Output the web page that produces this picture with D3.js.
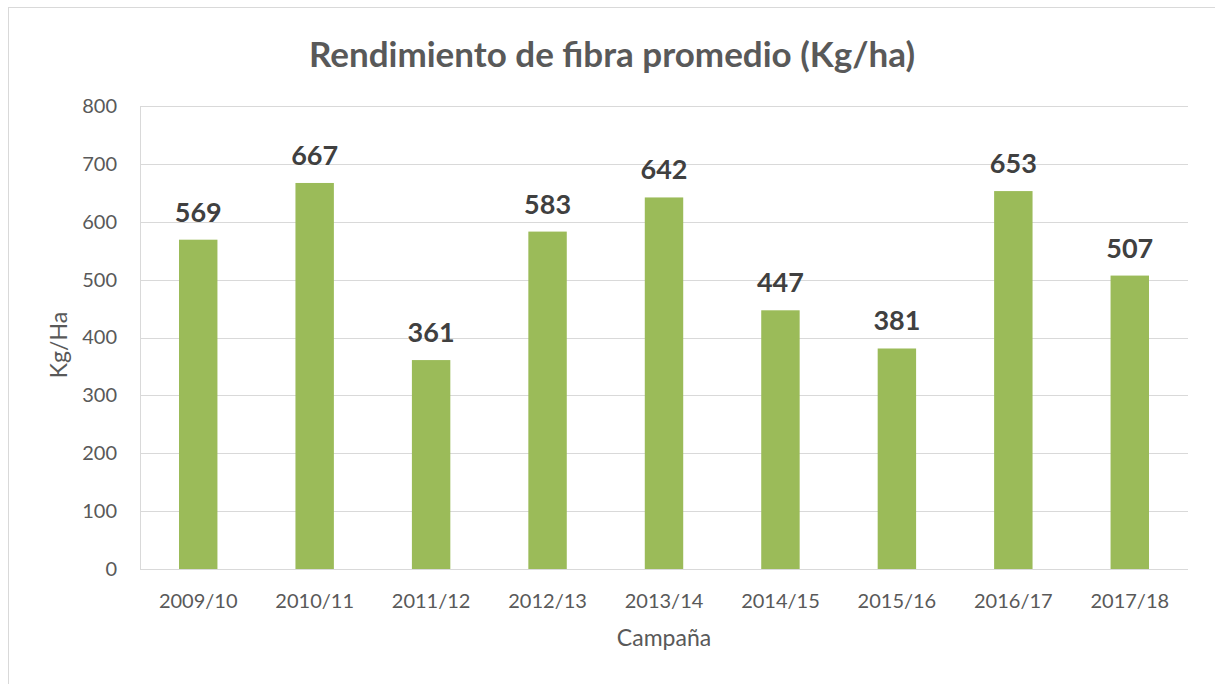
<!DOCTYPE html>
<html><head><meta charset="utf-8">
<script src="https://cdn.jsdelivr.net/npm/d3@7"></script>
<style>body{margin:0;background:#fff;} svg{display:block;}</style>
</head><body>
<svg id="c" width="1215" height="684"></svg>
<script>
const categories = ["2009/10","2010/11","2011/12","2012/13","2013/14","2014/15","2015/16","2016/17","2017/18"];
const values = [569,667,361,583,642,447,381,653,507];
const yTicks = [0,100,200,300,400,500,600,700,800];
const title = "Rendimiento de fibra promedio (Kg/ha)";
const xTitle = "Campaña";
const yTitle = "Kg/Ha";

const svg = d3.select("#c");
const font = "Lato, 'Open Sans', sans-serif";
const m = {left:140, right:1188, top:106, bottom:569};

svg.append("rect").attr("x",8.5).attr("y",7.5).attr("width",1215).attr("height",700)
  .attr("fill","#fff").attr("stroke","#d9d9d9").attr("stroke-width",1);

const x = d3.scaleBand().domain(categories).range([m.left,m.right]).paddingInner(0.67).paddingOuter(0.335);
const y = d3.scaleLinear().domain([0,800]).range([m.bottom,m.top]);

// gridlines
svg.append("g").selectAll("line").data(yTicks).join("line")
  .attr("x1",m.left).attr("x2",m.right)
  .attr("y1",d=>Math.round(y(d))+0.5).attr("y2",d=>Math.round(y(d))+0.5)
  .attr("stroke","#d9d9d9").attr("stroke-width",1);
svg.append("line").attr("x1",m.left+0.5).attr("x2",m.left+0.5).attr("y1",m.top).attr("y2",m.bottom)
  .attr("stroke","#d9d9d9");

// y tick labels
const yAxis = d3.axisLeft(y).tickValues(yTicks).tickSize(0).tickPadding(23);
const gy = svg.append("g").attr("transform",`translate(${m.left},0)`).call(yAxis);
gy.select(".domain").remove();
gy.selectAll("text").attr("font-family",font).attr("font-size",20).attr("fill","#595959");

// x tick labels
const xAxis = d3.axisBottom(x).tickSize(0).tickPadding(25);
const gx = svg.append("g").attr("transform",`translate(0,${m.bottom})`).call(xAxis);
gx.select(".domain").remove();
gx.selectAll("text").attr("font-family",font).attr("font-size",20).attr("fill","#595959");

// bars
svg.append("g").selectAll("rect").data(values).join("rect")
  .attr("x",(d,i)=>x(categories[i])).attr("width",x.bandwidth())
  .attr("y",d=>y(d)).attr("height",d=>y(0)-y(d)).attr("fill","#9bbb59");

// data labels
svg.append("g").selectAll("text").data(values).join("text")
  .attr("x",(d,i)=>x(categories[i])+x.bandwidth()/2).attr("y",d=>y(d)-18)
  .attr("text-anchor","middle").attr("font-family",font).attr("font-weight","bold")
  .attr("font-size",27).attr("fill","#404040").text(d=>d);

// titles
svg.append("text").attr("x",612).attr("y",67).attr("text-anchor","middle")
  .attr("font-family",font).attr("font-weight","bold").attr("font-size",35).attr("fill","#595959").text(title);
svg.append("text").attr("x",664).attr("y",646).attr("text-anchor","middle")
  .attr("font-family",font).attr("font-size",23).attr("fill","#595959").text(xTitle);
svg.append("text").attr("transform","translate(67,345) rotate(-90)").attr("text-anchor","middle")
  .attr("font-family",font).attr("font-size",23).attr("fill","#595959").text(yTitle);
</script>
</body></html>
